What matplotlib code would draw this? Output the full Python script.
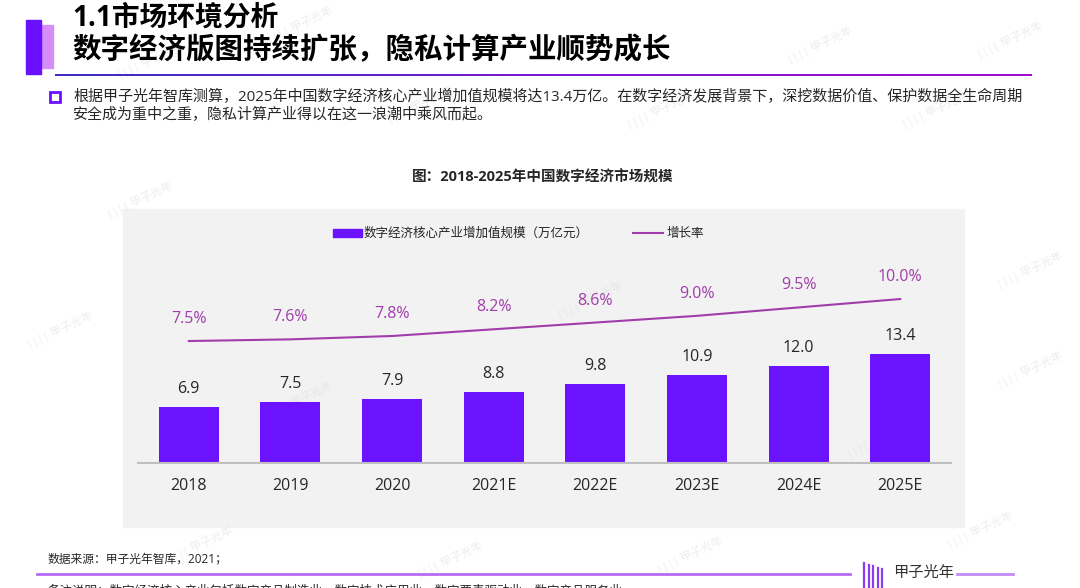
import numpy as np
import matplotlib
matplotlib.use("Agg")
from matplotlib import pyplot as plt
from matplotlib.patches import Rectangle
from matplotlib.lines import Line2D
from matplotlib.colors import LinearSegmentedColormap

plt.rcParams['font.family'] = ['Open Sans', 'Noto Sans CJK SC', 'DejaVu Sans']

# data
years = ["2018", "2019", "2020", "2021E", "2022E", "2023E", "2024E", "2025E"]
scale = [6.9, 7.5, 7.9, 8.8, 9.8, 10.9, 12.0, 13.4]
growth = [7.5, 7.6, 7.8, 8.2, 8.6, 9.0, 9.5, 10.0]

bar_name = "数字经济核心产业增加值规模（万亿元）"
line_name = "增长率"
chart_title = "图：2018-2025年中国数字经济市场规模"
head1 = "1.1市场环境分析"
head2 = "数字经济版图持续扩张，隐私计算产业顺势成长"
body1 = "根据甲子光年智库测算，2025年中国数字经济核心产业增加值规模将达13.4万亿。在数字经济发展背景下，深挖数据价值、保护数据全生命周期"
body2 = "安全成为重中之重，隐私计算产业得以在这一浪潮中乘风而起。"
source = "数据来源：甲子光年智库，2021；"
note = "备注说明：数字经济核心产业包括数字产品制造业、数字技术应用业、数字要素驱动业、数字产品服务业"

BAR = "#6B12FF"
LINE = "#A03DAA"
TXT = "#262626"
W, H = 1080, 588

fig = plt.figure(figsize=(W / 100, H / 100), dpi=100)
fig.patch.set_facecolor("white")


def fx(x):
    return x / W


def fy(y):
    return 1 - y / H


def frect(x0, y0, x1, y1, **kw):
    fig.add_artist(Rectangle((fx(x0), fy(y1)), fx(x1) - fx(x0), fy(y0) - fy(y1),
                             transform=fig.transFigure, **kw))


def fline(x0, x1, y0, y1=None, **kw):
    y1 = y0 if y1 is None else y1
    fig.add_artist(Line2D([fx(x0), fx(x1)], [fy(y0), fy(y1)], transform=fig.transFigure, **kw))


# panel behind the chart
frect(123, 209, 964, 527, color="#F2F2F2", zorder=-2)

# faint watermarks
for wx, wy in [(150, 60), (300, 25), (820, 45), (1010, 40), (140, 200), (420, 105),
               (660, 110), (935, 110), (60, 330), (1030, 270), (1030, 370), (880, 440),
               (300, 400), (590, 300), (200, 545), (690, 555), (450, 560), (980, 530)]:
    fig.text(fx(wx), fy(wy), "|||| 甲子光年", fontsize=8, color="#DADADA", alpha=0.5,
             rotation=25, ha="center", va="center", zorder=-1)

# header blocks
frect(40, 25, 53, 68, color="#D68CF9", zorder=1)
frect(26, 20, 41, 74, color="#6A10FF", zorder=2)
fig.text(fx(72), fy(18), head1, fontsize=20, fontweight="bold", color="black", va="center")
fig.text(fx(72), fy(51), head2, fontsize=20.5, fontweight="bold", color="black", va="center")

# gradient rule under the heading
rax = fig.add_axes([fx(55), fy(76.5), fx(1032) - fx(55), 3 / H])
grad = LinearSegmentedColormap.from_list("rule", ["#3A2EC6", "#7A1AD4", "#A30CD6"])
rax.imshow(np.linspace(0, 1, 256)[None, :], cmap=grad, aspect="auto")
rax.axis("off")

# bullet text
frect(50, 92, 59.5, 101.5, facecolor="white", edgecolor="#6A10FF", lw=2, zorder=3)
fig.text(fx(73), fy(97), body1, fontsize=10.8, color=TXT, va="center")
fig.text(fx(73), fy(115), body2, fontsize=10.8, color=TXT, va="center")

# chart title
fig.text(fx(543), fy(178), chart_title, fontsize=10.5, fontweight="bold", color=TXT,
         ha="center", va="center")

# legend
frect(333, 229, 362, 237, color=BAR, zorder=2)
fig.text(fx(364), fy(233), bar_name, fontsize=9, color=TXT, va="center")
fline(633, 663, 233, color=LINE, lw=1.5)
fig.text(fx(667), fy(233), line_name, fontsize=9, color=TXT, va="center")

# bars
ax = fig.add_axes([fx(138), fy(463), fx(951) - fx(138), (463 - 209) / H])
ax.set_zorder(3)
ax.set_facecolor("none")
x = np.arange(len(years))
ax.bar(x, scale, width=0.59, color=BAR, zorder=2)
ax.set_xlim(-0.5, len(years) - 0.5)
ax.set_ylim(0, 254 / 8.1)
for xi, v in zip(x, scale):
    ax.annotate("%.1f" % v, (xi, v), xytext=(0, 18), textcoords="offset pixels",
                ha="center", va="center", fontsize=11.5, color=TXT)
for s in ["top", "right", "left"]:
    ax.spines[s].set_visible(False)
ax.spines["bottom"].set_color("#BFBFBF")
ax.spines["bottom"].set_linewidth(1.5)
ax.set_yticks([])
ax.set_xticks(x)
ax.set_xticklabels(years, fontsize=11.5, color=TXT)
ax.tick_params(axis="x", length=0, pad=10.5)

# growth rate line
ax2 = ax.twinx()
ax2.set_zorder(4)
ax2.set_ylim(0.24, 0.24 + 254 / 16.8)
ax2.plot(x, growth, color=LINE, lw=1.5, zorder=3)
for xi, g in zip(x, growth):
    ax2.annotate("%.1f%%" % g, (xi, g), xytext=(0, 22), textcoords="offset pixels",
                 ha="center", va="center", fontsize=11.5, color=LINE)
ax2.axis("off")

# footer
fig.text(fx(48), fy(559), source, fontsize=8.5, color=TXT, va="center")
fline(37, 850, 574, color="#B56CF2", lw=2)
for i, bx in enumerate(np.linspace(864, 882, 5)):
    fline(bx, bx, 563 + i * 1.5, 588, color="#8A3CF0", lw=1.6)
fig.text(fx(893), fy(573), "甲子光年", fontsize=11, color="#333333", va="center")
fline(957, 1013, 574, color="#C48AF5", lw=2)
fig.text(fx(48), fy(591), note, fontsize=9, color=TXT, va="center")

fig.savefig("out.png", dpi=100)
